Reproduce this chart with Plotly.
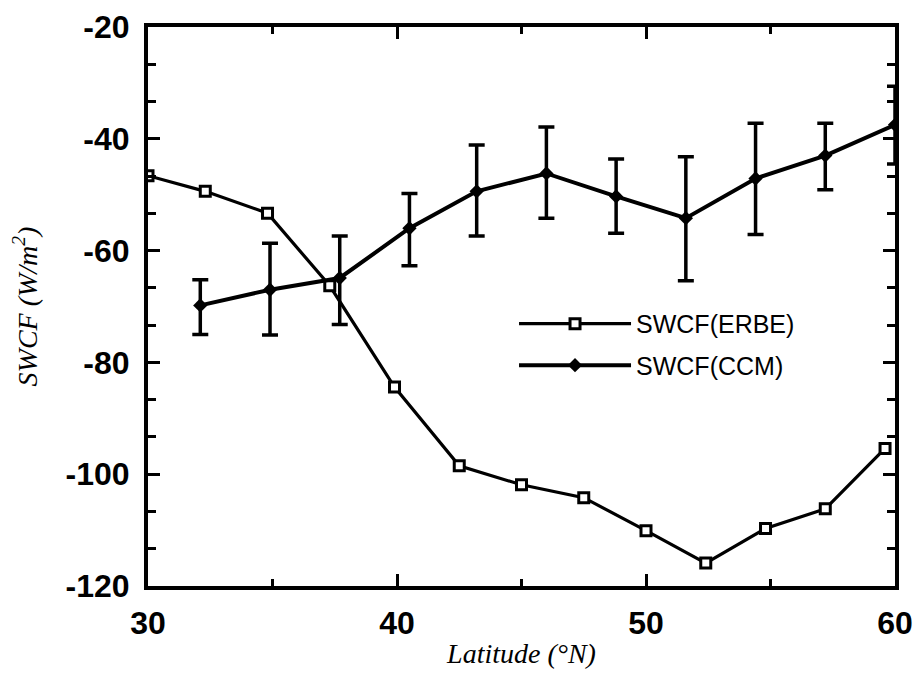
import plotly.graph_objects as go

# ERBE observations
erbe_lat = [30.0, 32.3, 34.8, 37.3, 39.9, 42.5, 45.0, 47.5, 50.0, 52.4, 54.8, 57.2, 59.6]
erbe_swcf = [-46.6, -49.4, -53.3, -66.3, -84.4, -98.5, -101.9, -104.2, -110.1, -115.9, -109.7, -106.2, -95.4]

# CCM model with error bars
ccm_lat = [32.1, 34.9, 37.7, 40.5, 43.2, 46.0, 48.8, 51.6, 54.4, 57.2, 60.0]
ccm_swcf = [-69.8, -67.0, -64.9, -56.0, -49.4, -46.2, -50.3, -54.2, -47.1, -43.0, -37.5]
ccm_top = [-65.2, -58.7, -57.4, -49.8, -41.1, -37.9, -43.6, -43.2, -37.2, -37.2, -30.6]
ccm_bot = [-75.0, -75.1, -73.2, -62.7, -57.4, -54.2, -56.9, -65.4, -57.1, -49.1, -44.5]

x_ticks = [30, 40, 50, 60]
y_ticks = [-20, -40, -60, -80, -100, -120]

err_plus = [t - v for t, v in zip(ccm_top, ccm_swcf)]
err_minus = [v - b for v, b in zip(ccm_swcf, ccm_bot)]

fig = go.Figure()
fig.add_trace(go.Scatter(
    x=erbe_lat, y=erbe_swcf, mode="lines+markers", name="SWCF(ERBE)",
    legendgroup="a",
    line=dict(color="black", width=3.2),
    marker=dict(symbol="square", size=10, color="white", line=dict(color="black", width=3)),
))
fig.add_trace(go.Scatter(
    x=ccm_lat, y=ccm_swcf, mode="lines+markers", name="SWCF(CCM)",
    legendgroup="b",
    line=dict(color="black", width=4),
    marker=dict(symbol="diamond", size=11, color="black"),
    error_y=dict(type="data", array=err_plus, arrayminus=err_minus, symmetric=False,
                 color="black", thickness=3.5, width=8),
))

tickfont = dict(family="Liberation Sans Narrow, Liberation Sans", size=32, color="black", weight="bold")
titlefont = dict(family="Liberation Serif", size=28, color="black", style="italic")

fig.update_layout(
    width=914, height=669,
    margin=dict(l=140, r=27, t=19, b=91, autoexpand=False),
    paper_bgcolor="white", plot_bgcolor="white",
    showlegend=True,
    legend=dict(x=0.49, y=0.51, xanchor="left", yanchor="top",
                bgcolor="rgba(0,0,0,0)", itemwidth=112,
                traceorder="grouped", tracegroupgap=6,
                font=dict(family="Liberation Sans", size=25, color="black")),
    xaxis=dict(range=[30, 60], tickvals=x_ticks, ticktext=[str(v) for v in x_ticks],
               automargin=False, ticklabeloverflow="allow",
               ticks="inside", ticklen=12, tickwidth=3, tickcolor="black",
               minor=dict(dtick=5, ticks="inside", ticklen=7, tickwidth=3, tickcolor="black"),
               showline=True, linecolor="black", linewidth=4, mirror="allticks",
               showgrid=False, zeroline=False, tickfont=tickfont, ticklabelstandoff=6,
               title=dict(text="Latitude (°N)", font=titlefont, standoff=4)),
    yaxis=dict(range=[-120, -20], tickvals=y_ticks, ticktext=[str(v) for v in y_ticks],
               automargin=False, ticklabeloverflow="allow",
               ticks="inside", ticklen=12, tickwidth=3, tickcolor="black",
               minor=dict(tick0=-20, dtick=20/3, ticks="inside", ticklen=8, tickwidth=3, tickcolor="black"),
               showline=True, linecolor="black", linewidth=4, mirror="allticks",
               showgrid=False, zeroline=False, tickfont=tickfont, ticklabelstandoff=8,
               title=dict(text="SWCF (W/m<sup>2</sup>)", font=titlefont, standoff=26)),
)

fig.write_html("out.html")
